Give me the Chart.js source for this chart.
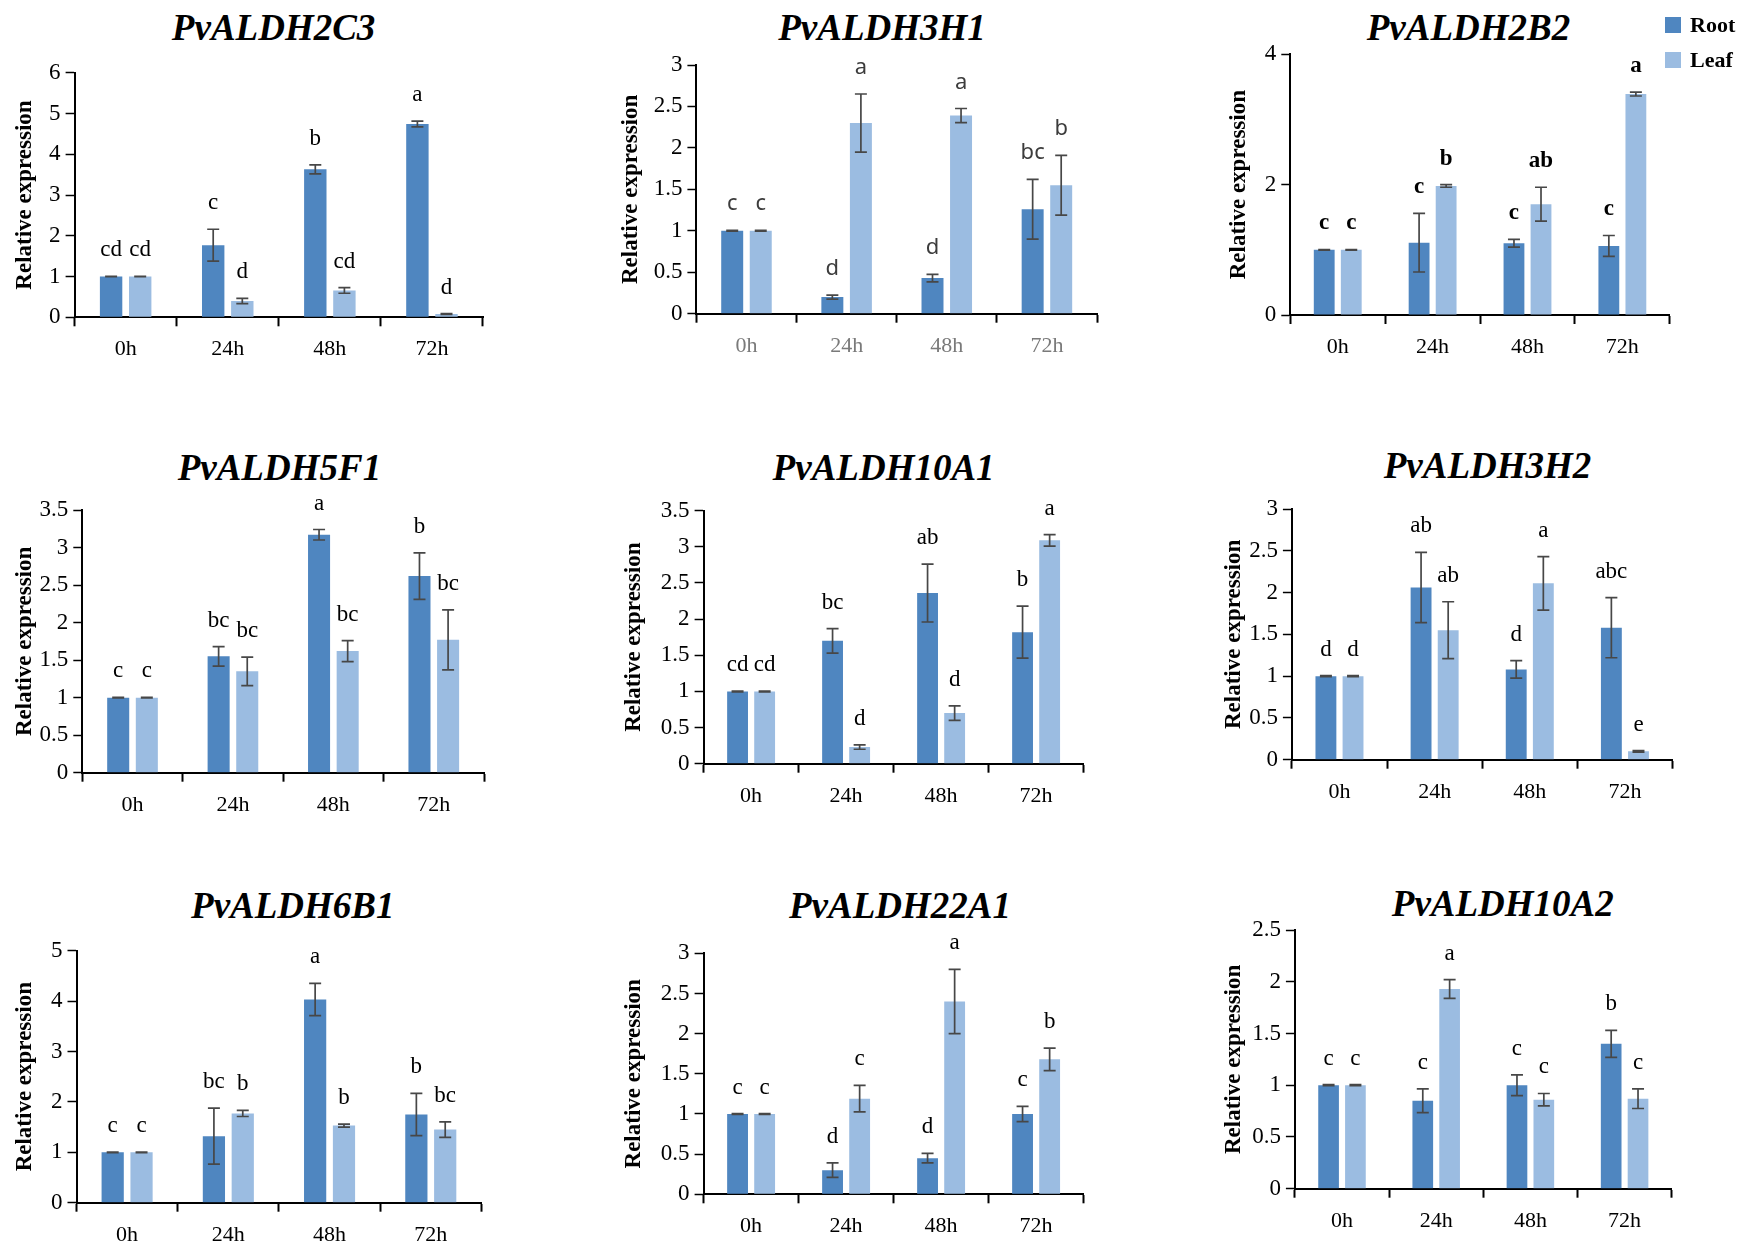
<!DOCTYPE html>
<html>
<head>
<meta charset="utf-8">
<script src="https://cdn.jsdelivr.net/npm/chart.js@4.4.1/dist/chart.umd.min.js"></script>
<style>
  html, body { margin: 0; padding: 0; background: #fff; }
  #page { position: relative; width: 1748px; height: 1252px; overflow: hidden; }
  #page canvas { position: absolute; }
  .gene { position: absolute; transform: translate(-50%, -50%); font: italic bold 37px/1 "Liberation Serif", "Times New Roman", serif; color: #000; white-space: nowrap; }
  .key { position: absolute; width: 16px; height: 16px; }
  .key-txt { position: absolute; font: bold 22px/1 "Liberation Serif", "Times New Roman", serif; color: #000; }
</style>
</head>
<body>
<div id="page"></div>
<script>
// ---------------- data ----------------
const timePoints = ['0h', '24h', '48h', '72h']
const seriesNames = ['Root', 'Leaf']
const seriesColors = ['#4F86C0', '#9BBCE1']
const genes = ['PvALDH2C3', 'PvALDH3H1', 'PvALDH2B2', 'PvALDH5F1', 'PvALDH10A1', 'PvALDH3H2', 'PvALDH6B1', 'PvALDH22A1', 'PvALDH10A2']

const rootMean = [
  [1.00, 1.77, 3.63, 4.74],
  [1.00, 0.20, 0.43, 1.26],
  [1.00, 1.11, 1.10, 1.06],
  [1.00, 1.55, 3.17, 2.62],
  [1.00, 1.70, 2.36, 1.82],
  [1.00, 2.06, 1.08, 1.58],
  [1.00, 1.32, 4.03, 1.75],
  [1.00, 0.30, 0.45, 1.00],
  [1.00, 0.85, 1.00, 1.40],
]
const leafMean = [
  [1.00, 0.40, 0.66, 0.08],
  [1.00, 2.30, 2.39, 1.55],
  [1.00, 1.98, 1.70, 3.39],
  [1.00, 1.35, 1.62, 1.77],
  [1.00, 0.23, 0.70, 3.09],
  [1.00, 1.55, 2.11, 0.10],
  [1.00, 1.77, 1.53, 1.45],
  [1.00, 1.19, 2.40, 1.68],
  [1.00, 1.93, 0.86, 0.87],
]
const rootErr = [
  [0.005, 0.39, 0.11, 0.07],
  [0.005, 0.025, 0.045, 0.36],
  [0.005, 0.45, 0.06, 0.16],
  [0.005, 0.13, 0.07, 0.31],
  [0.005, 0.17, 0.40, 0.36],
  [0.005, 0.42, 0.105, 0.36],
  [0.005, 0.555, 0.32, 0.42],
  [0.005, 0.09, 0.06, 0.095],
  [0.005, 0.115, 0.10, 0.13],
]
const leafErr = [
  [0.005, 0.065, 0.07, 0.01],
  [0.005, 0.35, 0.085, 0.36],
  [0.005, 0.02, 0.26, 0.03],
  [0.005, 0.19, 0.14, 0.40],
  [0.005, 0.03, 0.10, 0.08],
  [0.005, 0.34, 0.32, 0.01],
  [0.005, 0.06, 0.03, 0.155],
  [0.005, 0.165, 0.40, 0.14],
  [0.005, 0.09, 0.06, 0.095],
]
const rootLetters = [
  ['cd', 'c', 'b', 'a'],
  ['c', 'd', 'd', 'bc'],
  ['c', 'c', 'c', 'c'],
  ['c', 'bc', 'a', 'b'],
  ['cd', 'bc', 'ab', 'b'],
  ['d', 'ab', 'd', 'abc'],
  ['c', 'bc', 'a', 'b'],
  ['c', 'd', 'd', 'c'],
  ['c', 'c', 'c', 'b'],
]
const leafLetters = [
  ['cd', 'd', 'cd', 'd'],
  ['c', 'a', 'a', 'b'],
  ['c', 'b', 'ab', 'a'],
  ['c', 'bc', 'bc', 'bc'],
  ['cd', 'd', 'd', 'a'],
  ['d', 'ab', 'a', 'e'],
  ['c', 'b', 'b', 'bc'],
  ['c', 'c', 'a', 'b'],
  ['c', 'a', 'c', 'c'],
]
const yMax = [6, 3, 4, 3.5, 3.5, 3, 5, 3, 2.5]
const yStep = [1, 0.5, 2, 0.5, 0.5, 0.5, 1, 0.5, 0.5]

// ---------------- layout (pixel boxes of each panel) ----------------
const panels = [
  { yTitleX: 25,     axisX: 74.6,   top: 72.7,  bottom: 317.3,  right: 483,    titleX: 273.6,  titleY: 27 },
  { yTitleX: 631,    axisX: 696.4,  top: 65,    bottom: 313.7,  right: 1097,   titleX: 882,    titleY: 27 },
  { yTitleX: 1239.6, axisX: 1290.3, top: 54.3,  bottom: 315,    right: 1669.8, titleX: 1468.5, titleY: 27 },
  { yTitleX: 25,     axisX: 82.3,   top: 510,   bottom: 772.7,  right: 484,    titleX: 279.4,  titleY: 466.7 },
  { yTitleX: 634.5,  axisX: 703.6,  top: 510.7, bottom: 763.7,  right: 1083.6, titleX: 883.6,  titleY: 466.7 },
  { yTitleX: 1234,   axisX: 1291.9, top: 509,   bottom: 759.7,  right: 1672.5, titleX: 1487.5, titleY: 465 },
  { yTitleX: 25,     axisX: 76.5,   top: 950.7, bottom: 1202.7, right: 481.4,  titleX: 292.8,  titleY: 905 },
  { yTitleX: 634.5,  axisX: 703.6,  top: 953.3, bottom: 1194.3, right: 1083.6, titleX: 900,    titleY: 905 },
  { yTitleX: 1234,   axisX: 1294.9, top: 930,   bottom: 1188.7, right: 1671.7, titleX: 1502.8, titleY: 903.3 },
]
const SERIF = '"Liberation Serif", "Times New Roman", serif'
const letterStyle = (k) => k === 1 ? { font: '22px "Noto Sans", sans-serif', color: '#3c3c3c' }
  : k === 2 ? { font: 'bold 23px ' + SERIF, color: '#000' }
  : { font: '23px ' + SERIF, color: '#000' }

// 误差棒 + 显著性字母
const errorBarsAndLetters = {
  id: 'errorBarsAndLetters',
  afterDatasetsDraw(chart, args, opts) {
    const { ctx } = chart
    const y = chart.scales.y
    ctx.save()
    chart.data.datasets.forEach((ds, di) => {
      chart.getDatasetMeta(di).data.forEach((bar, i) => {
        const v = ds.data[i], e = ds.errors[i]
        const yTop = y.getPixelForValue(v + e), yBot = y.getPixelForValue(v - e)
        ctx.strokeStyle = '#474747'
        ctx.lineWidth = 1.7
        ctx.beginPath()
        ctx.moveTo(bar.x, yTop); ctx.lineTo(bar.x, yBot)
        ctx.moveTo(bar.x - 6, yTop); ctx.lineTo(bar.x + 6, yTop)
        ctx.moveTo(bar.x - 6, yBot); ctx.lineTo(bar.x + 6, yBot)
        ctx.stroke()
        ctx.fillStyle = opts.color
        ctx.font = opts.font
        ctx.textAlign = 'center'
        ctx.textBaseline = 'alphabetic'
        ctx.fillText(ds.letters[i], bar.x, yTop - 20)
      })
    })
    ctx.restore()
  },
}

const page = document.getElementById('page')

function makePanel(k) {
  const p = panels[k]
  const left = Math.round(p.yTitleX - 11.5)
  const top = Math.round(p.top - 30)
  const width = Math.round(p.right + 10 - left)
  const height = Math.round(p.bottom + 48 - top)

  const title = document.createElement('div')
  title.className = 'gene'
  title.textContent = genes[k]
  title.style.left = p.titleX + 'px'
  title.style.top = p.titleY + 'px'
  page.appendChild(title)

  const canvas = document.createElement('canvas')
  canvas.width = width
  canvas.height = height
  canvas.style.left = left + 'px'
  canvas.style.top = top + 'px'
  canvas.style.width = width + 'px'
  canvas.style.height = height + 'px'
  page.appendChild(canvas)

  const ls = letterStyle(k)
  new Chart(canvas, {
    type: 'bar',
    data: {
      labels: timePoints,
      datasets: [
        { label: seriesNames[0], data: rootMean[k], errors: rootErr[k], letters: rootLetters[k], backgroundColor: seriesColors[0], borderWidth: 0 },
        { label: seriesNames[1], data: leafMean[k], errors: leafErr[k], letters: leafLetters[k], backgroundColor: seriesColors[1], borderWidth: 0 },
      ],
    },
    options: {
      responsive: false, animation: false, devicePixelRatio: 1,
      layout: { padding: { top: p.top - top, right: left + width - p.right, bottom: 0, left: 0 } },
      datasets: { bar: { categoryPercentage: 0.57, barPercentage: 0.77 } },
      plugins: { legend: { display: false }, tooltip: { enabled: false }, errorBarsAndLetters: ls },
      scales: {
        x: {
          grid: { offset: true, drawOnChartArea: false, tickLength: 9, tickColor: '#000', tickWidth: 2 },
          border: { display: true, color: '#000', width: 2 },
          ticks: { font: { family: SERIF, size: 22 }, color: k === 1 ? '#7a7a7a' : '#000', padding: 10 },
          afterFit: (s) => { s.height = height - (p.bottom - top) },
        },
        y: {
          min: 0, max: yMax[k],
          ticks: { stepSize: yStep[k], font: { family: SERIF, size: 23 }, color: '#000', padding: 5, callback: (v) => String(v) },
          grid: { drawOnChartArea: false, tickLength: 9, tickColor: '#000', tickWidth: 1.5 },
          border: { display: true, color: '#000', width: 2 },
          title: { display: true, text: 'Relative expression', color: '#000', padding: 0,
            font: { family: SERIF, size: 23, weight: 'bold', lineHeight: 1 } },
          afterFit: (s) => { s.width = p.axisX - left },
        },
      },
    },
    plugins: [errorBarsAndLetters],
  })
}

genes.forEach((g, k) => makePanel(k))

// 图例（右上角）
const legendBox = { x: 1665, y: [17, 52] }
seriesNames.forEach((name, i) => {
  const sq = document.createElement('div')
  sq.className = 'key'
  sq.style.left = legendBox.x + 'px'
  sq.style.top = legendBox.y[i] + 'px'
  sq.style.background = seriesColors[i]
  page.appendChild(sq)
  const tx = document.createElement('div')
  tx.className = 'key-txt'
  tx.textContent = name
  tx.style.left = (legendBox.x + 25) + 'px'
  tx.style.top = (legendBox.y[i] - 3) + 'px'
  page.appendChild(tx)
})
</script>
</body>
</html>
